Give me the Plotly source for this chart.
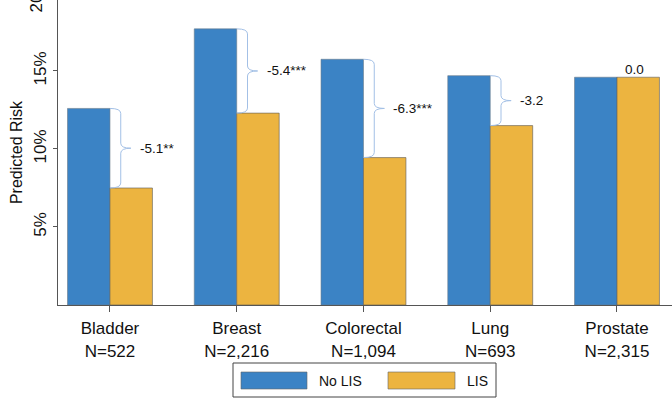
import plotly.graph_objects as go

categories = ["Bladder", "Breast", "Colorectal", "Lung", "Prostate"]
n_labels = ["N=522", "N=2,216", "N=1,094", "N=693", "N=2,315"]
no_lis = [12.6, 17.7, 15.75, 14.7, 14.6]
lis = [7.5, 12.3, 9.45, 11.5, 14.6]
diff_labels = ["-5.1**", "-5.4***", "-6.3***", "-3.2", "0.0"]
y_ticks = [5, 10, 15, 20]

BLUE = "#3B83C5"
ORANGE = "#ECB440"
BRACE = "#A3C0E6"
FONT = "Liberation Sans, Arial, Helvetica, sans-serif"

xs = list(range(len(categories)))
YMAX = 19.55

fig = go.Figure()
fig.add_trace(go.Bar(x=xs, y=no_lis, name="No LIS", marker=dict(color=BLUE, line=dict(color="#6a7a8a", width=0.6))))
fig.add_trace(go.Bar(x=xs, y=lis, name="LIS", marker=dict(color=ORANGE, line=dict(color="#5a5a5a", width=0.6))))

shapes = []
annotations = []
ry = 0.32
for i, (a, b, lab) in enumerate(zip(no_lis, lis, diff_labels)):
    c = xs[i]
    if abs(a - b) > 1e-9:
        top, bot = max(a, b), min(a, b)
        mid = (top + bot) / 2
        xv = c + 0.085
        xt = c + 0.165
        path = (f"M {c},{top} Q {xv},{top} {xv},{top-ry} L {xv},{mid+ry} "
                f"Q {xv},{mid} {xt},{mid} Q {xv},{mid} {xv},{mid-ry} "
                f"L {xv},{bot+ry} Q {xv},{bot} {c},{bot}")
        shapes.append(dict(type="path", path=path, xref="x", yref="y",
                           line=dict(color=BRACE, width=1)))
        annotations.append(dict(x=c + 0.22, y=mid, xref="x", yref="y", text=lab,
                                showarrow=False, xanchor="left", yanchor="middle",
                                font=dict(size=13.5, color="#111", family=FONT)))
    else:
        annotations.append(dict(x=c + 0.14, y=max(a, b), xref="x", yref="y", text=lab,
                                showarrow=False, xanchor="center", yanchor="bottom",
                                yshift=-2,
                                font=dict(size=13.5, color="#111", family=FONT)))

# partially visible top tick label (outside range)
annotations.append(dict(x=0, xref="paper", xanchor="right", xshift=-10,
                        y=y_ticks[-1] / YMAX, yref="paper", yanchor="middle", yshift=-3,
                        text=f"{y_ticks[-1]}%", textangle=-90, showarrow=False,
                        font=dict(size=17, color="#111", family=FONT)))

# manual legend
lx0, lx1, ly0, ly1 = 233, 496, 363, 397
W, H = 672, 401
pb, pt = 96, 0
ph = H - pb - pt
pl = 58
pw = W - pl


def px(x):
    return (x - pl) / pw


def py(y):
    return (H - pb - y) / ph


shapes.append(dict(type="rect", xref="paper", yref="paper", x0=px(lx0), x1=px(lx1),
                   y0=py(ly1), y1=py(ly0), line=dict(color="#444", width=1), fillcolor="white"))
for (sx0, sx1, col, tx, name) in [(241, 307, BLUE, 317, "No LIS"), (388, 455, ORANGE, 465, "LIS")]:
    shapes.append(dict(type="rect", xref="paper", yref="paper", x0=px(sx0), x1=px(sx1),
                       y0=py(389), y1=py(372), line=dict(color="#666", width=0.6), fillcolor=col))
    annotations.append(dict(x=px(tx), y=py(380.5), xref="paper", yref="paper", text=name,
                            showarrow=False, xanchor="left", yanchor="middle",
                            font=dict(size=14, color="#111", family=FONT)))

fig.update_layout(
    width=W, height=H,
    margin=dict(l=pl, r=0, t=pt, b=pb),
    barmode="group", bargap=0.33, bargroupgap=0,
    plot_bgcolor="white", paper_bgcolor="white",
    showlegend=False,
    shapes=shapes, annotations=annotations,
    font=dict(family=FONT, color="#111"),
    xaxis=dict(range=[-0.41, 4.434], tickvals=xs,
               ticktext=[f"{c}<br>{n}" for c, n in zip(categories, n_labels)],
               showline=True, linecolor="#555", linewidth=1, ticks="outside",
               ticklen=6, tickcolor="#555", showgrid=False, zeroline=False,
               ticklabelstandoff=2,
               tickfont=dict(size=17, family=FONT, color="#111")),
    yaxis=dict(range=[0, YMAX], tickvals=y_ticks, ticktext=[f"{t}%" for t in y_ticks],
               tickangle=-90, showline=True, linecolor="#555", linewidth=1,
               ticks="outside", ticklen=4, tickcolor="#555", showgrid=False, zeroline=False,
               tickfont=dict(size=17, family=FONT, color="#111")),
)
fig.update_yaxes(title=dict(text="Predicted Risk", font=dict(size=16, family=FONT, color="#111"), standoff=4))

fig.write_html("out.html")
